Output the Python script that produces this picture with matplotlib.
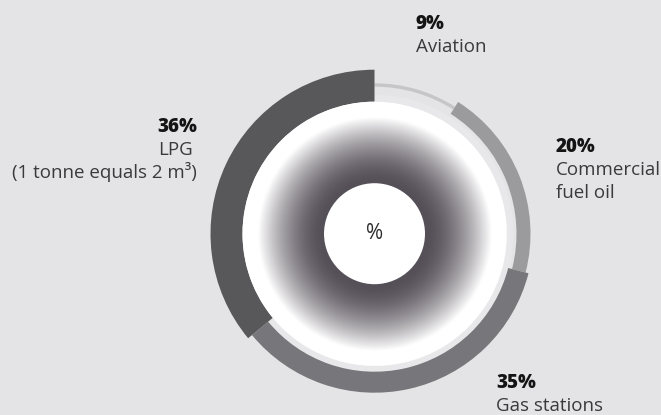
import numpy as np
import matplotlib
matplotlib.use("Agg")
import matplotlib.pyplot as plt
from matplotlib.patches import Wedge, Circle

# Fuel sales split, clockwise from 12 o'clock
categories = ["Aviation", "Commercial\nfuel oil", "Gas stations", "LPG\n(1 tonne equals 2 m³)"]
shares = [9, 20, 35, 36]

W, H = 661, 415
BG = "#e4e4e6"
CX, CY = 374.5, H - 233.7

# ring styling per category: (inner radius, band width, colour)
ring_style = [
    (147.0, 3.4, "#c6c6c8"),
    (142.0, 14.0, "#9b9b9e"),
    (138.0, 21.0, "#77777b"),
    (132.0, 32.0, "#58585a"),
]

plt.rcParams["font.family"] = ["Open Sans", "DejaVu Sans"]

fig = plt.figure(figsize=(W / 100, H / 100), dpi=100, facecolor=BG)
ax = fig.add_axes([0, 0, 1, 1])
ax.set_facecolor(BG)
ax.set_xlim(0, W)
ax.set_ylim(0, H)
ax.set_aspect("equal")
ax.axis("off")

# faint track just outside the disc
ax.add_patch(Wedge((CX, CY), 139, 0, 360, width=7, facecolor="#e8e8ea", edgecolor="none"))

# segments, clockwise starting at the top
start = 90.0
for share, (r_in, w, col) in zip(shares, ring_style):
    end = start - share * 3.6
    ax.add_patch(Wedge((CX, CY), r_in + w, end, start, width=w,
                       facecolor=col, edgecolor="none", antialiased=True))
    start = end

# white disc with dark radial haze towards the middle
R_DISC, R_HOLE = 132.0, 50.5
ax.add_patch(Circle((CX, CY), R_DISC, facecolor="white", edgecolor="none"))

n = 600
xs = np.linspace(CX - R_DISC, CX + R_DISC, n)
ys = np.linspace(CY - R_DISC, CY + R_DISC, n)
gx, gy = np.meshgrid(xs, ys)
rr = np.hypot(gx - CX, gy - CY)
s = np.clip((rr - 52.0) / (117.0 - 52.0), 0, 1) ** 1.6
dark = np.array([0x55, 0x4f, 0x58]) / 255.0
img = np.ones((n, n, 4))
for k in range(3):
    img[..., k] = dark[k] + (1 - dark[k]) * s
img[..., 3] = (rr <= R_DISC).astype(float)
ax.imshow(img, extent=(xs[0], xs[-1], ys[0], ys[-1]), origin="lower",
          interpolation="bilinear", zorder=2)

ax.add_patch(Circle((CX, CY), R_HOLE, facecolor="white", edgecolor="none", zorder=3))
ax.text(CX, CY, "%", ha="center", va="center", fontsize=15, color="#2e2e30", zorder=4)

# labels: (x, baseline from top, alignment)
label_pos = [
    (416, 29.3, "left"),
    (556, 151.7, "left"),
    (496, 388.3, "left"),
    (197.3, 132.3, "right"),
]
PCT_COL = "#141414"
TXT_COL = "#3a3a3c"
LINE = 23.0

for cat, share, (x, yb, ha) in zip(categories, shares, label_pos):
    ax.text(x, H - yb, f"{share}%", ha=ha, va="baseline", fontsize=13.5,
            fontweight="heavy", color=PCT_COL)
    for i, line in enumerate(cat.split("\n")):
        lx = x
        if ha == "right" and i == 0:
            lx = x - 4.5
        ax.text(lx, H - yb - LINE * (i + 1), line, ha=ha, va="baseline",
                fontsize=13.5, color=TXT_COL)

fig.savefig("out.png", dpi=100, facecolor=BG)
